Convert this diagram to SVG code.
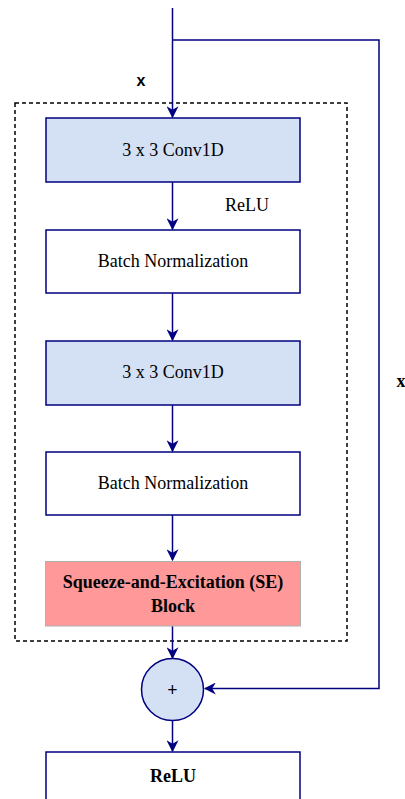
<svg xmlns="http://www.w3.org/2000/svg" width="405" height="799" viewBox="0 0 405 799">
  <style>
    .conv { fill: #d4e1f5; stroke: #000080; stroke-width: 1.5; }
    .plain { fill: #ffffff; stroke: #000080; stroke-width: 1.5; }
    .se { fill: #ff9999; stroke: #b0b0b0; stroke-width: 1; }
    .label { font-family: "Liberation Serif", "Times New Roman", serif; font-size: 18px; fill: #000000; text-anchor: middle; }
    .bold { font-weight: bold; }
    .edge { fill: none; stroke: #000080; stroke-width: 1.5; }
    .frame { fill: none; stroke: #000000; stroke-width: 1.5; stroke-dasharray: 4 3; }
  </style>
  <defs>
    <marker id="arrow" viewBox="0 0 10 10" refX="9" refY="5" markerWidth="12" markerHeight="12" markerUnits="userSpaceOnUse" orient="auto">
      <path d="M0,0 L10,5 L0,10 L3,5 Z" fill="#000080"/>
    </marker>
  </defs>
  <rect width="405" height="799" fill="#ffffff"/>

  <!-- residual block frame -->
  <rect class="frame" x="15" y="103" width="332" height="538"/>

  <g id="edges">
    <path class="edge" d="M172.5,8 V117" marker-end="url(#arrow)"/>
    <path class="edge" d="M172.5,40 H379 V688.5 H205" marker-end="url(#arrow)"/>
    <path class="edge" d="M172.5,182 V229" marker-end="url(#arrow)"/>
    <path class="edge" d="M172.5,293 V340" marker-end="url(#arrow)"/>
    <path class="edge" d="M172.5,405 V451" marker-end="url(#arrow)"/>
    <path class="edge" d="M172.5,515 V560" marker-end="url(#arrow)"/>
    <path class="edge" d="M172.5,626 V658" marker-end="url(#arrow)"/>
    <path class="edge" d="M172.5,721 V751" marker-end="url(#arrow)"/>
    <text x="141" y="86" font-family="Liberation Sans, Arial, sans-serif" font-size="16" font-weight="bold" text-anchor="middle">x</text>
    <text class="label" x="247" y="211">ReLU</text>
    <text class="label bold" x="401" y="387">x</text>
  </g>

  <g id="conv1">
    <rect class="conv" x="46" y="118" width="254" height="64"/>
    <text class="label" x="173" y="156">3 x 3 Conv1D</text>
  </g>
  <g id="bn1">
    <rect class="plain" x="46" y="230" width="254" height="63"/>
    <text class="label" x="173" y="267">Batch Normalization</text>
  </g>
  <g id="conv2">
    <rect class="conv" x="46" y="341" width="254" height="64"/>
    <text class="label" x="173" y="378">3 x 3 Conv1D</text>
  </g>
  <g id="bn2">
    <rect class="plain" x="46" y="452" width="254" height="63"/>
    <text class="label" x="173" y="489">Batch Normalization</text>
  </g>
  <g id="se">
    <rect class="se" x="45.5" y="561.5" width="255" height="64.5"/>
    <text class="label bold" x="173" y="588">Squeeze-and-Excitation (SE)</text>
    <text class="label bold" x="173" y="612">Block</text>
  </g>
  <g id="add">
    <circle class="conv" cx="172.5" cy="689.5" r="31"/>
    <text class="label bold" x="172.5" y="696">+</text>
  </g>
  <g id="relu">
    <rect class="plain" x="46" y="752" width="254" height="60"/>
    <text class="label bold" x="173" y="782">ReLU</text>
  </g>
</svg>
